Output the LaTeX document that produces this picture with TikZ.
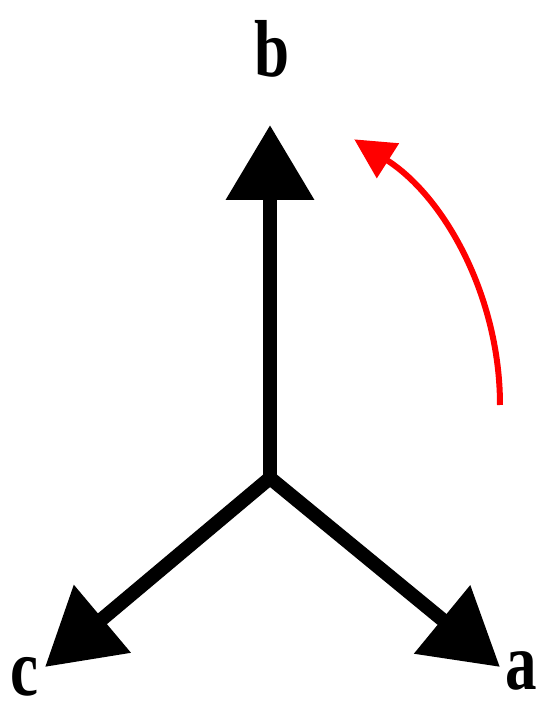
\documentclass[tikz,border=0pt]{standalone}
\usepackage{fontspec}
\setmainfont{Liberation Serif}
\newfontfamily\labelfont[FakeStretch=0.78]{Liberation Serif}
\usepackage{tikz}
\usetikzlibrary{arrows.meta, positioning}

\begin{document}
\begin{tikzpicture}[
    x=0.02cm, y=0.02cm,
    axis/.style={line width=0.28cm, -{Triangle[length=1.5cm, width=1.7cm]}},
    turn/.style={line width=0.12cm, red, -{Triangle[length=0.8cm, width=0.8cm]}},
    lbl/.style={inner sep=0pt, font=\labelfont\bfseries\fontsize{46}{46}\selectfont},
]
\useasboundingbox (0,0) rectangle (543,711);

%% Centre and arrow tips
\coordinate (o) at (270,233);
\coordinate (ta) at (500,44);
\coordinate (tb) at (270,586);
\coordinate (tc) at (45,44);

%% Labels
\node[lbl] (b) at (272,662) {b};
\node[lbl] (a) at (521,40) {a};
\node[lbl] (c) at (24,34) {c};

%% Axes
\foreach \to in {ta, tb, tc}
    \draw[axis] (o) -- (\to);

%% Rotation
\coordinate (r0) at (500,306);
\draw[turn] (r0) arc[start angle=0, end angle=57.5, radius=315];

\end{tikzpicture}
\end{document}
